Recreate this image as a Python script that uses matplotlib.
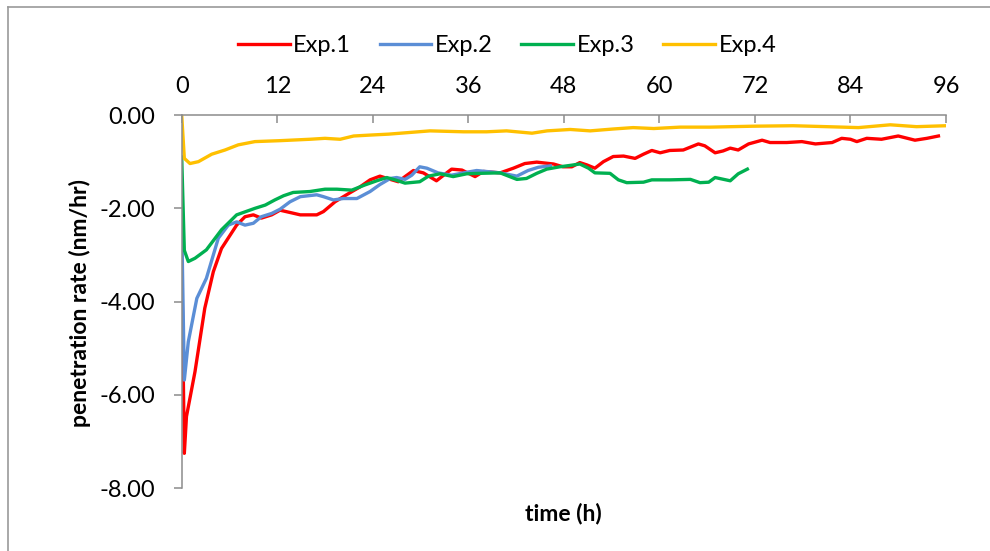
import matplotlib
matplotlib.use("Agg")
import matplotlib.pyplot as plt
from matplotlib.lines import Line2D

t_exp1 = [0, 0.33, 0.6, 1.67, 2.9, 3.97, 5.0, 6.9, 7.95, 9.0, 10.0, 11.3, 12.35, 14.9, 16.96,
          17.8, 19.26, 20.7, 22.4, 23.66, 24.9, 26.2, 27.2, 28.05, 29.1, 30.35, 32.0, 32.9, 33.9,
          35.2, 36.85, 37.9, 40.0, 41.66, 43.1, 44.6, 46.7, 47.9, 49.0, 50.0, 50.9, 51.9, 52.97,
          54.2, 55.5, 56.95, 58.0, 59.05, 60.1, 61.3, 63.0, 64.9, 65.7, 67.0, 68.0, 68.9, 69.9,
          71.2, 72.9, 73.9, 76.0, 77.9, 79.6, 81.7, 82.9, 84.0, 84.8, 86.05, 87.9, 90.0, 92.1,
          93.6, 95.05]
v_exp1 = [-3.0, -7.25, -6.46, -5.5, -4.14, -3.36, -2.86, -2.36, -2.18, -2.14, -2.21, -2.14, -2.04,
          -2.14, -2.14, -2.07, -1.86, -1.71, -1.54, -1.39, -1.31, -1.38, -1.43, -1.32, -1.19, -1.24,
          -1.41, -1.29, -1.16, -1.18, -1.32, -1.21, -1.24, -1.14, -1.04, -1.01, -1.05, -1.11, -1.11,
          -1.02, -1.07, -1.14, -1.0, -0.89, -0.88, -0.93, -0.84, -0.76, -0.81, -0.76, -0.75, -0.62,
          -0.66, -0.81, -0.77, -0.71, -0.75, -0.62, -0.54, -0.59, -0.59, -0.57, -0.62, -0.59, -0.5,
          -0.52, -0.57, -0.5, -0.52, -0.45, -0.54, -0.5, -0.45]

t_exp2 = [0, 0.33, 0.83, 1.9, 3.1, 4.6, 5.85, 6.9, 7.95, 9.0, 10.0, 11.3, 12.35, 13.6, 14.9,
          16.96, 17.8, 19.05, 20.3, 22.0, 23.66, 24.9, 26.2, 27.0, 28.05, 28.9, 29.9, 30.8, 32.2,
          33.9, 35.4, 37.05, 40.0, 42.1, 43.5, 44.8, 46.3]
v_exp2 = [-2.3, -5.68, -4.86, -3.93, -3.5, -2.64, -2.36, -2.29, -2.36, -2.32, -2.18, -2.11, -2.02,
          -1.86, -1.75, -1.71, -1.75, -1.82, -1.79, -1.79, -1.64, -1.49, -1.36, -1.34, -1.38, -1.29,
          -1.11, -1.14, -1.24, -1.29, -1.24, -1.19, -1.24, -1.31, -1.19, -1.12, -1.09]

t_exp3 = [0, 0.33, 0.83, 1.67, 3.1, 5.0, 6.9, 9.2, 10.5, 11.7, 12.8, 14.0, 16.1, 18.0, 19.5, 21.36,
          23.0, 24.5, 25.75, 26.8, 28.05, 29.9, 31.0, 32.45, 34.1, 35.8, 37.5, 40.0, 42.1, 43.3,
          44.6, 45.85, 47.5, 48.8, 50.0, 51.1, 51.9, 53.8, 54.85, 55.9, 58.0, 59.05, 61.3, 63.9,
          65.1, 66.2, 67.0, 68.9, 69.9, 71.05]
v_exp3 = [-0.9, -2.9, -3.14, -3.07, -2.89, -2.46, -2.14, -2.0, -1.93, -1.82, -1.73, -1.66, -1.64,
          -1.59, -1.59, -1.61, -1.5, -1.41, -1.34, -1.39, -1.46, -1.43, -1.31, -1.26, -1.32, -1.26,
          -1.25, -1.24, -1.38, -1.36, -1.25, -1.16, -1.11, -1.08, -1.05, -1.14, -1.24, -1.25, -1.39,
          -1.45, -1.44, -1.39, -1.39, -1.38, -1.45, -1.44, -1.34, -1.41, -1.26, -1.16]

t_exp4 = [0, 0.33, 1.04, 2.1, 3.77, 5.44, 7.1, 9.2, 12.35, 16.1, 18.0, 19.9, 21.6, 23.7, 26.0,
          31.2, 35.4, 38.3, 40.8, 44.0, 45.9, 48.8, 51.3, 54.2, 56.7, 59.3, 62.6, 66.4, 71.8, 76.8,
          81.0, 85.0, 89.0, 92.3, 96.0]
v_exp4 = [0.0, -0.93, -1.04, -1.0, -0.84, -0.75, -0.64, -0.57, -0.55, -0.52, -0.5, -0.52, -0.45,
          -0.43, -0.41, -0.34, -0.36, -0.36, -0.34, -0.39, -0.34, -0.31, -0.34, -0.3, -0.27, -0.29,
          -0.26, -0.26, -0.24, -0.23, -0.25, -0.27, -0.21, -0.25, -0.23]

series = [("Exp.1", t_exp1, v_exp1, "#FF0000"),
          ("Exp.2", t_exp2, v_exp2, "#5B8ED6"),
          ("Exp.3", t_exp3, v_exp3, "#00B050"),
          ("Exp.4", t_exp4, v_exp4, "#FFC000")]

x_ticks = [0, 12, 24, 36, 48, 60, 72, 84, 96]
y_ticks = [0, -2, -4, -6, -8]

plt.rcParams["font.family"] = ["Lato", "DejaVu Sans"]
plt.rcParams["axes.unicode_minus"] = False

W, H = 990, 551
fig = plt.figure(figsize=(W / 100, H / 100), dpi=100)
ax = fig.add_axes([181.7 / W, 1 - 488.3 / H, (946 - 181.7) / W, (488.3 - 115) / H])

for name, t, v, col in series:
    ax.plot(t, v, color=col, linewidth=2.4, label=name, solid_joinstyle="round")

axis_col = "#8c8c8c"
ax.set_xlim(0, 96)
ax.set_ylim(-8, 0)
ax.set_xticks(x_ticks)
ax.set_yticks(y_ticks)
ax.set_yticklabels([f"{y:.2f}" for y in y_ticks])
ax.xaxis.tick_top()
ax.tick_params(axis="x", direction="in", length=6, width=1.1, color=axis_col,
               labelsize=17, pad=13)
ax.tick_params(axis="y", direction="out", length=6, width=1.1, color=axis_col,
               labelsize=17, pad=13)
for side in ["right", "bottom"]:
    ax.spines[side].set_visible(False)
for side in ["top", "left"]:
    ax.spines[side].set_color(axis_col)
    ax.spines[side].set_linewidth(1.1)

fig.text(80 / W, 1 - 303 / H, "penetration rate (nm/hr)", rotation=90, ha="center",
         va="center", fontsize=16.5, fontweight="bold")
fig.text(563 / W, 1 - 513 / H, "time (h)", ha="center", va="center", fontsize=16.5,
         fontweight="bold")

fig.legend(loc="center", bbox_to_anchor=(507 / W, 1 - 46 / H), ncol=4, frameon=False,
           fontsize=17, handlelength=2.2, handletextpad=0.15, columnspacing=1.2)

# chart border (left and top edges visible in the reference)
fig.add_artist(Line2D([8 / W, 8 / W], [0, 1 - 7 / H], color="#9a9a9a", linewidth=1.2))
fig.add_artist(Line2D([8 / W, 1], [1 - 7 / H, 1 - 7 / H], color="#9a9a9a", linewidth=1.2))

fig.savefig("out.png", dpi=100)
